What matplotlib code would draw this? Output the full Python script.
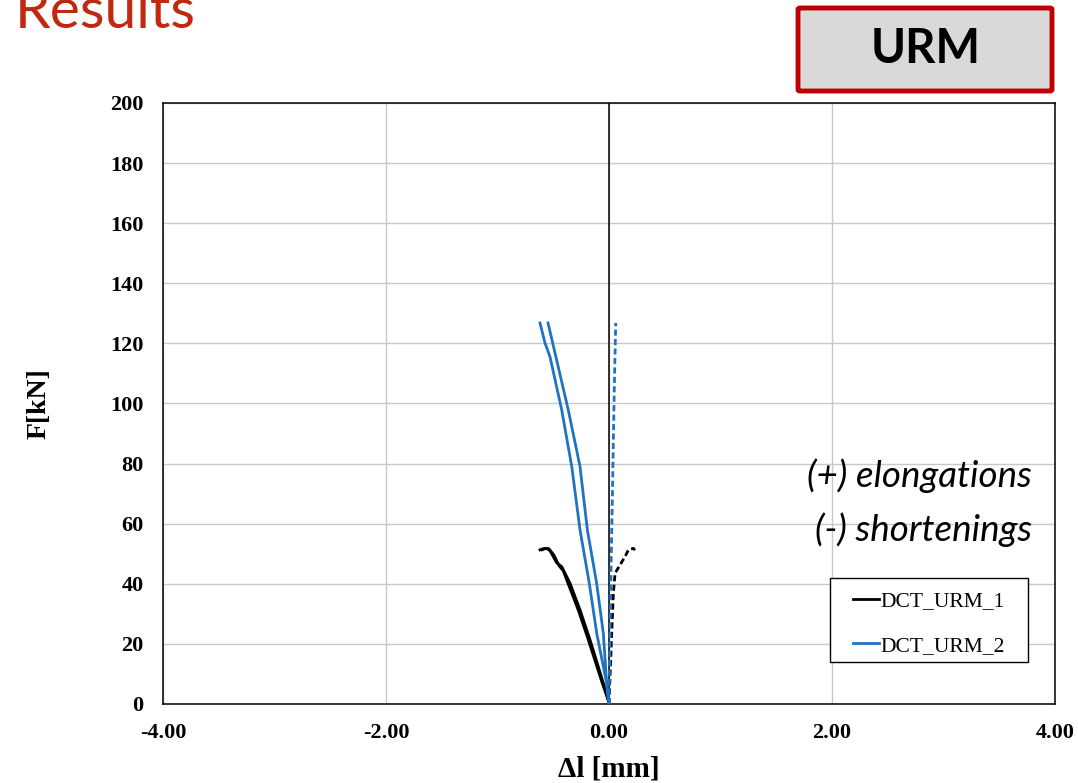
import matplotlib
matplotlib.use("Agg")
import matplotlib.pyplot as plt
from matplotlib.patches import FancyBboxPatch, Rectangle
from matplotlib.lines import Line2D

# ---------------------------------------------------------------------------
# Data
# ---------------------------------------------------------------------------

# DCT_URM_1 - shortening side (two traces) and elongation side (dashed)
urm1_short_a_x = [0.0, -0.010, -0.051, -0.096, -0.170, -0.260, -0.350, -0.424,
                  -0.470, -0.529, -0.560, -0.600, -0.619]
urm1_short_a_f = [0.0, 2.0, 6.9, 12.4, 21.3, 31.3, 40.2, 45.7, 47.0, 51.0,
                  51.8, 51.6, 51.3]
urm1_short_b_x = [0.0, -0.014, -0.060, -0.108, -0.185, -0.276, -0.368, -0.410,
                  -0.448, -0.495, -0.540, -0.575, -0.600]
urm1_short_b_f = [0.0, 2.0, 6.9, 12.4, 21.3, 31.3, 40.2, 44.3, 46.0, 49.6,
                  51.7, 51.7, 51.3]
urm1_elong_x = [0.0, 0.010, 0.024, 0.039, 0.054, 0.099, 0.143, 0.173, 0.218, 0.233]
urm1_elong_f = [0.0, 10.0, 23.5, 36.8, 43.5, 46.3, 49.0, 51.2, 51.8, 51.2]

# DCT_URM_2 - shortening side (two traces) and elongation side (dashed)
urm2_short_a_x = [0.0, -0.021, -0.110, -0.177, -0.260, -0.334, -0.424, -0.529,
                  -0.574, -0.619]
urm2_short_a_f = [0.0, 6.9, 23.5, 40.2, 57.9, 79.0, 97.8, 115.5, 120.1, 126.8]
urm2_short_b_x = [0.0, -0.021, -0.051, -0.111, -0.194, -0.260, -0.365, -0.505,
                  -0.547]
urm2_short_b_f = [0.0, 6.9, 23.5, 40.2, 57.9, 79.0, 97.8, 120.1, 126.8]
urm2_elong_x = [0.0, 0.008, 0.018, 0.030, 0.040, 0.050, 0.056, 0.060]
urm2_elong_f = [0.0, 20.0, 45.0, 68.0, 90.0, 110.0, 120.0, 126.8]

series_names = ["DCT_URM_1", "DCT_URM_2"]
series_colors = ["black", "#1f73c1"]

x_ticks = [-4, -2, 0, 2, 4]
y_ticks = list(range(0, 201, 20))

# ---------------------------------------------------------------------------
# Figure
# ---------------------------------------------------------------------------

W, H = 1078, 783
fig = plt.figure(figsize=(W / 100, H / 100), dpi=100)
ax = fig.add_axes([0.1512, 0.1009, 0.8275, 0.7676])

lw = 2.0
dash = (0, (2.2, 1.2))
c1, c2 = series_colors
ax.plot(urm1_short_a_x, urm1_short_a_f, color=c1, lw=lw, zorder=3)
ax.plot(urm1_short_b_x, urm1_short_b_f, color=c1, lw=lw, zorder=3)
ax.plot(urm1_elong_x, urm1_elong_f, color=c1, lw=lw, ls=dash, zorder=3)
ax.plot(urm2_short_a_x, urm2_short_a_f, color=c2, lw=lw, zorder=4)
ax.plot(urm2_short_b_x, urm2_short_b_f, color=c2, lw=lw, zorder=4)
ax.plot(urm2_elong_x, urm2_elong_f, color=c2, lw=lw, ls=dash, zorder=4)

ax.set_xlim(-4, 4)
ax.set_ylim(0, 200)
ax.set_xticks(x_ticks)
ax.set_xticklabels([f"{v:.2f}" for v in x_ticks])
ax.set_yticks(y_ticks)
ax.set_yticklabels([str(v) for v in y_ticks])
ax.tick_params(axis="x", length=0, pad=14)
ax.tick_params(axis="y", length=0, pad=14)
for lab in ax.get_xticklabels() + ax.get_yticklabels():
    lab.set_fontfamily("Liberation Serif")
    lab.set_fontweight("bold")
    lab.set_fontsize(16)

ax.grid(True, color="#c8c8c8", lw=1.0)
ax.set_axisbelow(True)
ax.axvline(0, color="black", lw=1.1, zorder=2)
for sp in ax.spines.values():
    sp.set_color("black")
    sp.set_linewidth(1.1)

ax.set_xlabel("Δl [mm]", fontfamily="Liberation Serif", fontweight="bold",
              fontsize=21, labelpad=9)
ax.set_ylabel("F[kN]", fontfamily="Liberation Serif", fontweight="bold",
              fontsize=20, labelpad=42)

# Annotations
ax.text(0.974, 0.380, "(+) elongations", transform=ax.transAxes, ha="right",
        va="center", fontsize=26.5, style="italic", fontfamily="Lato")
ax.text(0.974, 0.290, "(-) shortenings", transform=ax.transAxes, ha="right",
        va="center", fontsize=26.5, style="italic", fontfamily="Lato")

# Legend: frame drawn separately so it can be wider than the entries
frame = Rectangle((830 / W, 1 - 662 / H), 198 / W, 84 / H,
                  transform=fig.transFigure, facecolor="white",
                  edgecolor="black", linewidth=1.0, zorder=5)
fig.add_artist(frame)
handles = [Line2D([], [], color=c, lw=2) for c in series_colors]
leg = fig.legend(handles, series_names, loc="upper left",
                 bbox_to_anchor=(853 / W, 1 - 591 / H), borderaxespad=0,
                 frameon=False, handlelength=1.2, handletextpad=0.08,
                 borderpad=0, labelspacing=1.15,
                 prop={"family": "Liberation Serif", "size": 15.5})
leg.set_zorder(6)

# Slide title (cut at top edge) and URM badge
fig.text(0.014, 1 - 28 / H, "Results", fontsize=41, color="#c0290f",
         fontfamily="Lato", ha="left", va="baseline")

badge = FancyBboxPatch((798 / W, 1 - 91 / H), 254 / W, 83 / H,
                       boxstyle="round,pad=0,rounding_size=0.002",
                       transform=fig.transFigure, facecolor="#d9d9d9",
                       edgecolor="#c00000", linewidth=3.5)
fig.patches.append(badge)
fig.text(926 / W, 1 - 49 / H, "URM", fontsize=34, fontweight="bold",
         fontfamily="Lato", ha="center", va="center")

fig.savefig("out.png", dpi=100)
